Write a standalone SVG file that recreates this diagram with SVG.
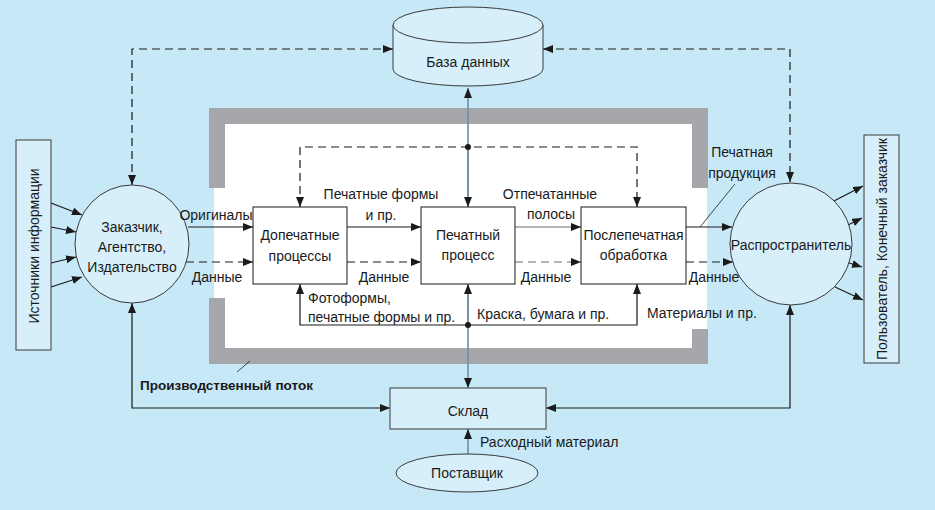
<svg xmlns="http://www.w3.org/2000/svg" width="935" height="510" viewBox="0 0 935 510">
<style>
text{font-family:"Liberation Sans",Arial,sans-serif;font-size:14px;fill:#1a1a1a}
.m{text-anchor:middle}
.b{font-weight:bold;font-size:13.5px}
.node{fill:#d6effa;stroke:#3a3a3a;stroke-width:1}
.box{fill:#ffffff;stroke:#1a1a1a;stroke-width:1}
.ln{fill:none;stroke:#1a1a1a;stroke-width:1.2}
.gr{fill:none;stroke:#6e6e6e;stroke-width:1.2}
.bl{fill:none;stroke:#6f8fa8;stroke-width:1.6}
.d{stroke-dasharray:8,5}
.a2{marker-start:url(#ah);marker-end:url(#ah)}
.a1{marker-end:url(#ah)}
.thin{fill:none;stroke:#1a1a1a;stroke-width:0.8}
</style>
<defs>
<marker id="ah" markerUnits="userSpaceOnUse" markerWidth="11" markerHeight="8" refX="10" refY="4" orient="auto-start-reverse"><path d="M0,0 L10,4 L0,8 z" fill="#1a1a1a"/></marker>
</defs>
<rect x="0" y="0" width="935" height="510" fill="#c6e8f7"/>
<g id="frame">
<rect x="214" y="124" width="493" height="224" fill="#ffffff"/>
<g fill="#a6a7ab">
<rect x="209" y="108" width="499" height="16"/>
<rect x="209" y="348" width="499" height="16"/>
<rect x="209" y="124" width="16" height="64"/>
<rect x="209" y="298" width="16" height="50"/>
<rect x="692" y="124" width="16" height="64"/>
<rect x="692" y="329" width="16" height="19"/>
</g>
</g>
<g id="connectors">
<path class="ln d a2" d="M132,185 L132,49 L393,49"/>
<path class="ln d a2" d="M543,49 L790,49 L790,182"/>
<path class="ln a2" d="M132,303 L132,408 L390,408"/>
<path class="ln a2" d="M546,408 L790,408 L790,305"/>
<path class="bl a2" d="M468,88 L468,388"/>
<path class="bl a1" d="M468,150 L468,207"/>
<path class="bl a1" d="M468,322 L468,284"/>
<path class="bl a1" d="M468,454 L468,429"/>
<path class="ln a1" d="M188,227 L253,227"/>
<path class="ln d a1" d="M186,262 L253,262"/>
<path class="ln a1" d="M347,227 L421,227"/>
<path class="ln d a1" d="M347,262 L421,262"/>
<path class="gr a1" d="M515,227 L581,227"/>
<path class="gr d a1" d="M515,262 L581,262"/>
<path class="ln a1" d="M686,227 L732,227"/>
<path class="ln d a1" d="M686,262 L733,262"/>
<path class="ln d a2" d="M300,207 L300,147 L637,147 L637,207"/>
<path class="ln a2" d="M300,284 L300,325 L637,325 L637,284"/>
<circle cx="468" cy="147" r="3" fill="#1a1a1a"/>
<circle cx="468" cy="325" r="3" fill="#1a1a1a"/>
<path class="ln a1" d="M51,203 L82,215"/>
<path class="ln a1" d="M51,227 L76,232"/>
<path class="ln a1" d="M51,263 L76,257"/>
<path class="ln a1" d="M51,287 L82,277"/>
<path class="ln a1" d="M832,202 L863,186"/>
<path class="ln a1" d="M846,226 L862,218"/>
<path class="ln a1" d="M846,262 L862,267"/>
<path class="ln a1" d="M835,287 L863,300"/>
<path class="thin" d="M700,227 L735,184"/>
<path class="thin" d="M237,372 L250,361"/>
</g>
<g id="db">
<path class="node" d="M393,25 L393,69 A75,17 0 0 0 543,69 L543,25"/>
<ellipse class="node" cx="468" cy="25" rx="75" ry="18"/>
<text class="m" x="468" y="67">База данных</text>
</g>
<g id="sources">
<rect class="node" x="16" y="140" width="35" height="210"/>
<text class="m" transform="translate(38.5,246) rotate(-90)">Источники информации</text>
</g>
<g id="customer">
<ellipse class="node" cx="132" cy="244" rx="57" ry="59"/>
<text class="m" x="132" y="232">Заказчик,</text>
<text class="m" x="132" y="252">Агентство,</text>
<text class="m" x="132" y="272">Издательство</text>
</g>
<g id="prepress">
<rect class="box" x="253" y="207" width="94" height="77"/>
<text class="m" x="300" y="240">Допечатные</text>
<text class="m" x="300" y="261">процессы</text>
</g>
<g id="press">
<rect class="box" x="421" y="207" width="94" height="77"/>
<text class="m" x="468" y="240">Печатный</text>
<text class="m" x="468" y="260">процесс</text>
</g>
<g id="postpress">
<rect class="box" x="581" y="207" width="105" height="77"/>
<text class="m" x="633.5" y="240">Послепечатная</text>
<text class="m" x="633.5" y="260">обработка</text>
</g>
<g id="distributor">
<circle class="node" cx="791" cy="244" r="61"/>
<text class="m" x="791" y="250">Распространитель</text>
</g>
<g id="users">
<rect class="node" x="864" y="135" width="35" height="228"/>
<text class="m" transform="translate(886.5,249) rotate(-90)">Пользователь, Конечный заказчик</text>
</g>
<g id="warehouse">
<rect class="node" x="390" y="388" width="156" height="41"/>
<text class="m" x="468" y="416">Склад</text>
</g>
<g id="supplier">
<ellipse class="node" cx="467" cy="473" rx="71" ry="19"/>
<text class="m" x="467" y="478">Поставщик</text>
</g>
<g id="labels">
<text class="m" x="216" y="220">Оригиналы</text>
<text class="m" x="217" y="282">Данные</text>
<text class="m" x="381" y="199">Печатные формы</text>
<text class="m" x="381" y="220">и пр.</text>
<text class="m" x="384" y="282">Данные</text>
<text x="308" y="303">Фотоформы,</text>
<text x="308" y="322">печатные формы и пр.</text>
<text class="m" x="550" y="199">Отпечатанные</text>
<text class="m" x="551" y="219">полосы</text>
<text class="m" x="546" y="282">Данные</text>
<text x="477" y="319">Краска, бумага и пр.</text>
<text x="647" y="318">Материалы и пр.</text>
<text class="m" x="714" y="282">Данные</text>
<text class="m" x="742" y="157">Печатная</text>
<text class="m" x="742" y="178">продукция</text>
<text x="480" y="447">Расходный материал</text>
<text class="b" x="140" y="390">Производственный поток</text>
</g>
</svg>
